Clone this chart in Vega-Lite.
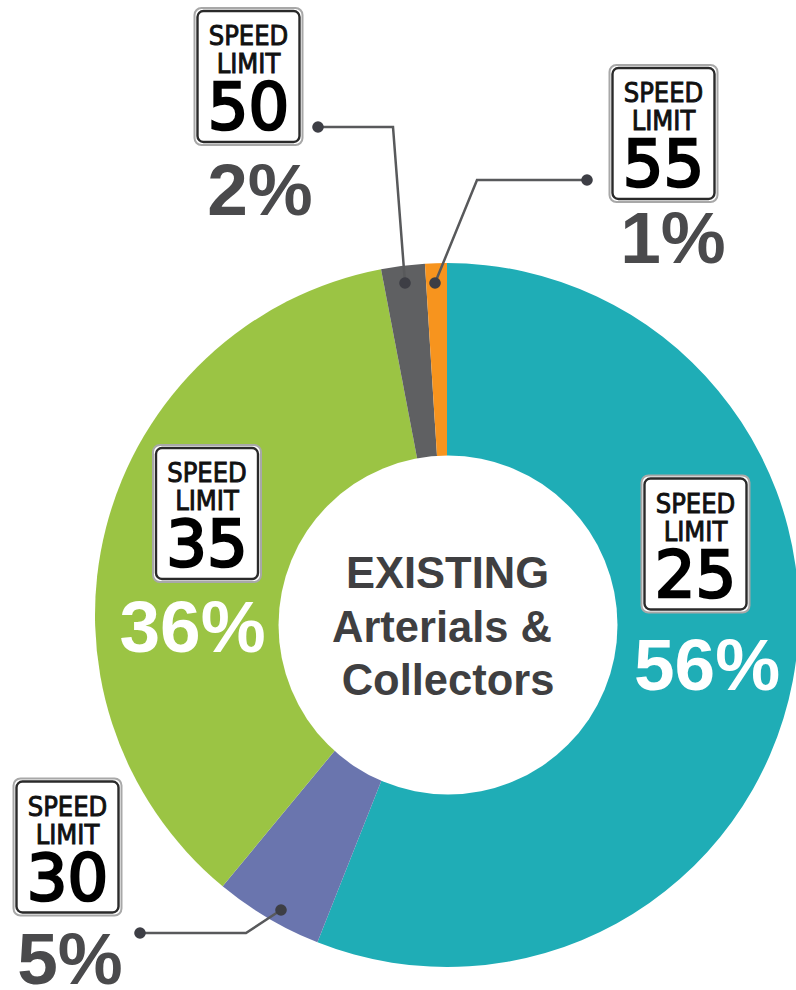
{
  "$schema": "https://vega.github.io/schema/vega-lite/v6.json",
  "width": 698,
  "height": 750,
  "padding": {"left": 98, "top": 240, "right": 0, "bottom": 0},
  "autosize": "none",
  "background": "#ffffff",
  "config": {"view": {"stroke": null}},
  "datasets": {
    "shares": [
      {"speed": 25, "share": 0.56},
      {"speed": 30, "share": 0.05},
      {"speed": 35, "share": 0.36},
      {"speed": 50, "share": 0.02},
      {"speed": 55, "share": 0.01}
    ],
    "leaders": [
      {"speed": 30, "stop": 1, "end": "sign"},
      {"speed": 30, "stop": 2, "end": "elbow"},
      {"speed": 30, "stop": 3, "end": "slice"},
      {"speed": 50, "stop": 4, "end": "sign"},
      {"speed": 50, "stop": 5, "end": "elbow"},
      {"speed": 50, "stop": 6, "end": "slice"},
      {"speed": 55, "stop": 7, "end": "sign"},
      {"speed": 55, "stop": 8, "end": "elbow"},
      {"speed": 55, "stop": 9, "end": "slice"}
    ],
    "heading": [{"title": "Existing arterials and collectors"}]
  },
  "data": {"name": "shares"},
  "layer": [
    {
      "mark": {"type": "arc", "outerRadius": 352},
      "encoding": {
        "theta": {"field": "share", "type": "quantitative", "stack": true, "scale": {"domain": [0, 1]}},
        "order": {"field": "speed", "type": "quantitative"},
        "color": {
          "field": "speed",
          "type": "nominal",
          "legend": null,
          "scale": {"domain": [25, 30, 35, 50, 55], "range": ["#1FADB6", "#6A75AE", "#9BC444", "#5F6062", "#F7941E"]}
        }
      }
    },
    {
      "description": "White hole of the ring, sitting slightly below the ring's centre",
      "data": {"name": "heading"},
      "mark": {"type": "point", "shape": "circle", "filled": true, "opacity": 1, "size": 114921, "color": "#ffffff", "xOffset": 1, "yOffset": 10},
      "encoding": {}
    },
    {
      "description": "Leader lines from each small slice out to its sign",
      "data": {"name": "leaders"},
      "mark": {"type": "line", "color": "#58595B", "strokeWidth": 2.5, "interpolate": "linear"},
      "encoding": {
        "x": {"field": "stop", "type": "quantitative", "axis": null, "scale": {"zero": false, "nice": false, "domain": [1, 2, 3, 4, 5, 6, 7, 8, 9], "range": [42, 148, 183, 220, 295, 307, 489, 379, 337]}},
        "y": {"field": "stop", "type": "quantitative", "axis": null, "scale": {"zero": false, "nice": false, "domain": [1, 2, 3, 4, 5, 6, 7, 8, 9], "range": [693, 693, 670, -113, -113, 43, -60, -60, 43]}},
        "detail": {"field": "speed"},
        "order": {"field": "stop", "type": "quantitative"}
      }
    },
    {
      "data": {"name": "leaders"},
      "transform": [{"filter": "datum.end !== 'elbow'"}],
      "mark": {"type": "point", "filled": true, "opacity": 1, "size": 135, "color": "#3D3E45"},
      "encoding": {
        "x": {"field": "stop", "type": "quantitative", "axis": null, "scale": {"zero": false, "nice": false, "domain": [1, 2, 3, 4, 5, 6, 7, 8, 9], "range": [42, 148, 183, 220, 295, 307, 489, 379, 337]}},
        "y": {"field": "stop", "type": "quantitative", "axis": null, "scale": {"zero": false, "nice": false, "domain": [1, 2, 3, 4, 5, 6, 7, 8, 9], "range": [693, 693, 670, -113, -113, 43, -60, -60, 43]}}
      }
    },
    {
      "description": "Speed limit signs: outer halo, inner border, then the three lines of lettering",
      "encoding": {
        "x": {"field": "speed", "type": "quantitative", "axis": null, "scale": {"zero": false, "nice": false, "domain": [25, 30, 35, 50, 55], "range": [597.5, -30.5, 109, 150.5, 565.5]}},
        "y": {"field": "speed", "type": "quantitative", "axis": null, "scale": {"zero": false, "nice": false, "domain": [25, 30, 35, 50, 55], "range": [304, 607, 273.5, -163.5, -106.5]}}
      },
      "layer": [
        {"mark": {"type": "rect", "width": 108, "height": 137, "cornerRadius": 7, "fill": "#ffffff", "stroke": "#A8A8A8", "strokeWidth": 2}},
        {"mark": {"type": "rect", "width": 102, "height": 131, "cornerRadius": 6, "fill": "#ffffff", "stroke": "#2A2A2A", "strokeWidth": 2.4}},
        {"mark": {"type": "text", "text": "SPEED", "font": "DejaVu Sans Condensed", "fontSize": 27, "baseline": "alphabetic", "align": "center", "dy": -31.5, "color": "#111111", "stroke": "#111111", "strokeWidth": 0.9}},
        {"mark": {"type": "text", "text": "LIMIT", "font": "DejaVu Sans Condensed", "fontSize": 27, "baseline": "alphabetic", "align": "center", "dy": -3.5, "color": "#111111", "stroke": "#111111", "strokeWidth": 0.9}},
        {
          "mark": {"type": "text", "font": "DejaVu Sans", "fontSize": 64, "baseline": "alphabetic", "align": "center", "dy": 52.5, "color": "#000000", "stroke": "#000000", "strokeWidth": 2.6},
          "encoding": {"text": {"field": "speed", "type": "nominal"}}
        }
      ]
    },
    {
      "mark": {"type": "text", "font": "Liberation Sans", "fontWeight": "bold", "fontSize": 73, "baseline": "alphabetic", "align": "center"},
      "encoding": {
        "x": {"field": "speed", "type": "quantitative", "axis": null, "scale": {"zero": false, "nice": false, "domain": [25, 30, 35, 50, 55], "range": [609, -28, 94.5, 162, 575]}},
        "y": {"field": "speed", "type": "quantitative", "axis": null, "scale": {"zero": false, "nice": false, "domain": [25, 30, 35, 50, 55], "range": [450, 744, 412, -25, 23]}},
        "text": {"field": "share", "type": "quantitative", "format": ".0%"},
        "fill": {
          "field": "speed",
          "type": "nominal",
          "legend": null,
          "scale": {"domain": [25, 30, 35, 50, 55], "range": ["#ffffff", "#4A4A4C", "#ffffff", "#4A4A4C", "#4A4A4C"]}
        }
      }
    },
    {
      "description": "Three-line heading inside the hole",
      "data": {"name": "heading"},
      "layer": [
        {"mark": {"type": "text", "text": "EXISTING", "font": "Liberation Sans", "fontWeight": "bold", "fontSize": 43.5, "baseline": "alphabetic", "align": "center", "color": "#3F3F41", "dx": 0.5, "dy": -27}},
        {"mark": {"type": "text", "text": "Arterials &", "font": "Liberation Sans", "fontWeight": "bold", "fontSize": 43.5, "baseline": "alphabetic", "align": "center", "color": "#3F3F41", "dx": -5, "dy": 27}},
        {"mark": {"type": "text", "text": "Collectors", "font": "Liberation Sans", "fontWeight": "bold", "fontSize": 43.5, "baseline": "alphabetic", "align": "center", "color": "#3F3F41", "dx": 1, "dy": 80}}
      ]
    }
  ],
  "resolve": {"scale": {"x": "independent", "y": "independent", "color": "independent", "fill": "independent"}}
}
